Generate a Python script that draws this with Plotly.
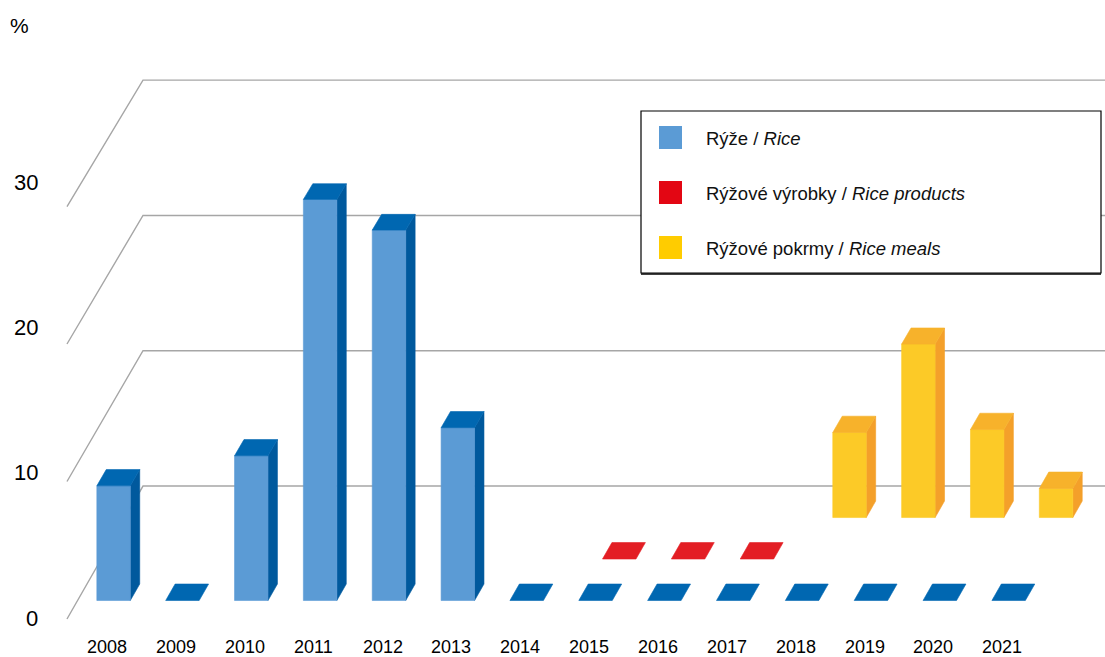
import plotly.graph_objects as go

# ---------------- data ----------------
years = list(range(2008, 2022))
year_labels = [str(y) for y in years]
rice = [8.36, 0, 10.55, 29.24, 27.0, 12.6, 0, 0, 0, 0, 0, 0, 0, 0]
rice_products = [None, None, None, None, None, None, None, 0, 0, 0, None, None, None, None]
rice_meals = [None, None, None, None, None, None, None, None, None, None, 6.26, 12.77, 6.48, 2.14]
ytick_vals = [0, 10, 20, 30]
ytick_text = ["0", "10", "20", "30"]
series_names = ["Rýže / <i>Rice</i>",
                "Rýžové výrobky / <i>Rice products</i>",
                "Rýžové pokrmy / <i>Rice meals</i>"]

# ---------------- style ----------------
W, H = 1105, 657
FONT = "Liberation Sans, Arial, sans-serif"
GRID = "#A6A6A6"
COLORS = [
    dict(front="#5B9BD5", top="#0067B1", side="#00599D", legend="#5B9BD5"),
    dict(front="#E31E24", top="#E31E24", side="#B5171C", legend="#E30613"),
    dict(front="#FCCA27", top="#F7B22B", side="#F4A02A", legend="#FFCC00"),
]

# oblique projection: category units (x), value units (y), depth z in [0,1]
DX = 1.104      # x shift per unit depth
DY = 9.67       # y shift per unit depth
PERSP = 0.016   # slight shrink of vertical scale with depth
ROW_Z = [0.139, 0.451, 0.763]
BAR_DEPTH = 0.124
HALF_W = 0.243
X_LEFT = -0.523   # left wall, in category units at the front
X_RANGE = [-1.496, 14.553]
Y_RANGE = [-2.764, 45.02]


def proj(c, v, z):
    return c + DX * z, v * (1 - PERSP * z) + DY * z


def poly(fig, pts, color):
    xs, ys = [], []
    for c, v, z in pts + [pts[0]]:
        x, y = proj(c, v, z)
        xs.append(x)
        ys.append(y)
    fig.add_trace(go.Scatter(x=xs, y=ys, mode="lines", fill="toself",
                             fillcolor=color, line=dict(color=color, width=0.6),
                             hoverinfo="skip", showlegend=False))


fig = go.Figure()

# gridlines (left wall diagonals + back wall horizontals)
for v in ytick_vals:
    pts = [(X_LEFT, v, 0), (X_LEFT, v, 1), (X_RANGE[1] + 1, v, 1)]
    xs, ys = zip(*[proj(*p) for p in pts])
    fig.add_trace(go.Scatter(x=xs, y=ys, mode="lines",
                             line=dict(color=GRID, width=1.4),
                             hoverinfo="skip", showlegend=False))

# bars, back row first
series = [rice, rice_products, rice_meals]
for r in [2, 1, 0]:
    col = COLORS[r]
    zf = ROW_Z[r]
    zb = zf + BAR_DEPTH
    for i, v in enumerate(series[r]):
        if v is None:
            continue
        c = i
        h = HALF_W
        if v > 0:
            poly(fig, [(c + h, 0, zf), (c + h, 0, zb), (c + h, v, zb), (c + h, v, zf)], col["side"])
            poly(fig, [(c - h, 0, zf), (c + h, 0, zf), (c + h, v, zf), (c - h, v, zf)], col["front"])
        poly(fig, [(c - h, v, zf), (c + h, v, zf), (c + h, v, zb), (c - h, v, zb)], col["top"])

annotations = []
# category labels
for i, lab in enumerate(year_labels):
    annotations.append(dict(x=i + 0.06, y=-2.03, xref="x", yref="y", text=lab,
                            showarrow=False, xanchor="center", yanchor="middle",
                            borderpad=0,
                            font=dict(family=FONT, size=18, color="#000000")))
# value labels (drawn slightly spread as in the original)
for v, t in zip(ytick_vals, ytick_text):
    annotations.append(dict(x=-0.915, y=v * 1.057 + 0.07, xref="x", yref="y", text=t,
                            showarrow=False, xanchor="right", yanchor="middle",
                            font=dict(family=FONT, size=22, color="#000000")))
annotations.append(dict(x=-1.22, y=43.2, xref="x", yref="y", text="%",
                        showarrow=False, xanchor="center", yanchor="middle",
                        font=dict(family=FONT, size=21, color="#000000")))


def px(x):
    return x / W


def py(y):
    return 1 - y / H


shapes = []
# legend box
shapes.append(dict(type="rect", xref="paper", yref="paper",
                   x0=px(641), x1=px(1101), y0=py(273), y1=py(111),
                   line=dict(color="#000000", width=1.2), fillcolor="#FFFFFF", layer="above"))
shapes.append(dict(type="line", xref="paper", yref="paper",
                   x0=px(641), x1=px(1101), y0=py(274), y1=py(274),
                   line=dict(color="#000000", width=1.4), layer="above"))
leg_y = [137.5, 192.5, 247.5]
for k in range(3):
    shapes.append(dict(type="rect", xref="paper", yref="paper",
                       x0=px(659), x1=px(682), y0=py(leg_y[k] + 11.5), y1=py(leg_y[k] - 11.5),
                       line=dict(width=0), fillcolor=COLORS[k]["legend"], layer="above"))
    annotations.append(dict(x=px(704), y=py(leg_y[k] + 0.5), xref="paper", yref="paper",
                            text=series_names[k], showarrow=False, xanchor="left",
                            yanchor="middle",
                            font=dict(family=FONT, size=18.5, color="#111111")))

fig.update_layout(
    width=W, height=H,
    margin=dict(l=0, r=0, t=0, b=0),
    paper_bgcolor="#FFFFFF", plot_bgcolor="#FFFFFF",
    xaxis=dict(range=X_RANGE, visible=False, fixedrange=True),
    yaxis=dict(range=Y_RANGE, visible=False, fixedrange=True),
    showlegend=False,
    annotations=annotations,
    shapes=shapes,
)

fig.write_html("out.html", config={"displayModeBar": False},
               post_script="document.body.style.margin='0';document.body.style.overflow='hidden';")
